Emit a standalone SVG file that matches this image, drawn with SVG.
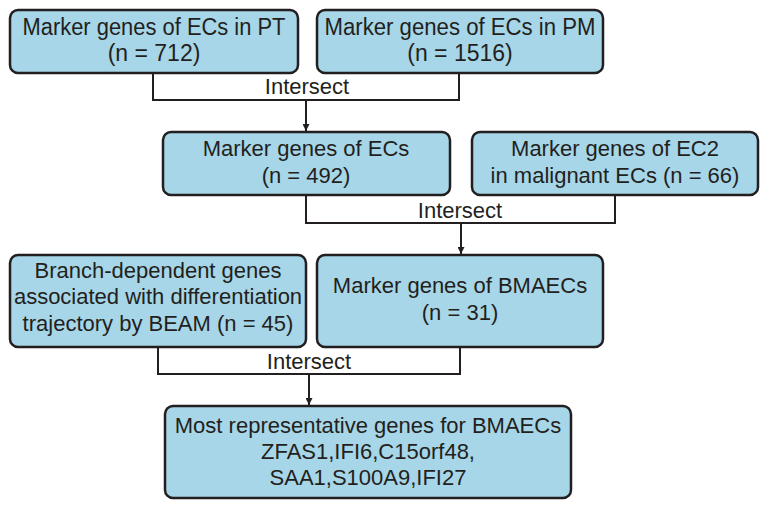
<svg xmlns="http://www.w3.org/2000/svg" width="763" height="507" viewBox="0 0 763 507">
<defs>
<style>
.box{fill:#a6d6e7;stroke:#231f20;stroke-width:2.5}
.t{font-family:"Liberation Sans",Arial,sans-serif;font-size:22px;fill:#231f20;text-anchor:middle}
.c{fill:none;stroke:#231f20;stroke-width:2}
</style>
<marker id="ah" viewBox="0 0 10 10" refX="10" refY="5" markerWidth="7" markerHeight="7" markerUnits="userSpaceOnUse" orient="auto">
<path d="M0,0 L10,5 L0,10 Z" fill="#231f20"/>
</marker>
</defs>
<rect width="763" height="507" fill="#fff"/>
<g id="connectors">
<path class="c" d="M153,73 V100 H459 V73"/>
<path class="c" d="M306,100 V131" marker-end="url(#ah)"/>
<text class="t" x="307" y="94">Intersect</text>
<path class="c" d="M306,195 V223 H615 V195"/>
<path class="c" d="M461,223 V254" marker-end="url(#ah)"/>
<text class="t" x="460" y="218">Intersect</text>
<path class="c" d="M158,347 V374 H460 V347"/>
<path class="c" d="M309,374 V405" marker-end="url(#ah)"/>
<text class="t" x="309" y="369">Intersect</text>
</g>
<g id="n1">
<rect class="box" x="10" y="10" width="288" height="63" rx="8"/>
<text class="t" x="154" y="35" style="font-size:23px" textLength="263" lengthAdjust="spacingAndGlyphs">Marker genes of ECs in PT</text>
<text class="t" x="154" y="61" style="font-size:23px">(n = 712)</text>
</g>
<g id="n2">
<rect class="box" x="317" y="10" width="286" height="63" rx="8"/>
<text class="t" x="460" y="35" style="font-size:23px" textLength="271" lengthAdjust="spacingAndGlyphs">Marker genes of ECs in PM</text>
<text class="t" x="460" y="61" style="font-size:23px">(n = 1516)</text>
</g>
<g id="n3">
<rect class="box" x="163" y="132" width="287" height="63" rx="8"/>
<text class="t" x="306" y="156">Marker genes of ECs</text>
<text class="t" x="306" y="183">(n = 492)</text>
</g>
<g id="n4">
<rect class="box" x="472" y="132" width="286" height="63" rx="8"/>
<text class="t" x="615" y="156">Marker genes of EC2</text>
<text class="t" x="615" y="183">in malignant ECs (n = 66)</text>
</g>
<g id="n5">
<rect class="box" x="10" y="255" width="296" height="92" rx="8"/>
<text class="t" x="158" y="278">Branch-dependent genes</text>
<text class="t" x="158" y="304">associated with differentiation</text>
<text class="t" x="158" y="331">trajectory by BEAM (n = 45)</text>
</g>
<g id="n6">
<rect class="box" x="317" y="255" width="286" height="92" rx="8"/>
<text class="t" x="460" y="293">Marker genes of BMAECs</text>
<text class="t" x="460" y="320">(n = 31)</text>
</g>
<g id="n7">
<rect class="box" x="165" y="406" width="406" height="92" rx="8"/>
<text class="t" x="368" y="433">Most representative genes for BMAECs</text>
<text class="t" x="368" y="459">ZFAS1,IFI6,C15orf48,</text>
<text class="t" x="368" y="485">SAA1,S100A9,IFI27</text>
</g>
</svg>
